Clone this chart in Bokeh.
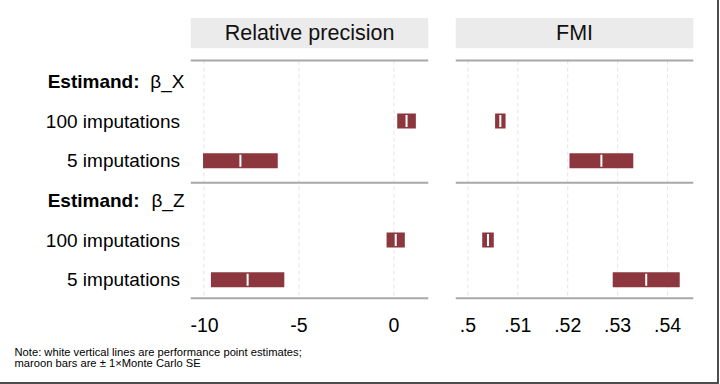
from bokeh.plotting import figure
from bokeh.models import Range1d, FixedTicker
from bokeh.layouts import row, column
from bokeh.embed import file_html
from bokeh.resources import INLINE
from bokeh.core.properties import value

# ---------------- data ----------------
PANEL_TITLES = ["Relative precision", "FMI"]
ESTIMANDS = ["β_X", "β_Z"]
ROW_LABELS = ["100 imputations", "5 imputations", "100 imputations", "5 imputations"]
ROW_POS = [1, 2, 4, 5]
HEADER_POS = [0, 3]
RP_EST = [0.66, -8.08, 0.09, -7.70]
RP_MCSE = [0.49, 1.965, 0.48, 1.93]
FMI_EST = [0.5065, 0.52674, 0.50403, 0.53572]
FMI_MCSE = [0.00105, 0.00639, 0.00116, 0.00671]
RP_TICKS = [-10, -5, 0]
RP_TICK_LABELS = ["-10", "-5", "0"]
FMI_TICKS = [0.50, 0.51, 0.52, 0.53, 0.54]
FMI_TICK_LABELS = [".5", ".51", ".52", ".53", ".54"]
NOTE_LINES = ["Note: white vertical lines are performance point estimates;",
              "maroon bars are \u00b1 1\u00d7Monte Carlo SE"]

# ---------------- style / layout ----------------
FONT = "Liberation Sans"
MAROON = "#8c373d"
STRIP = "#ebebeb"
LINE = "#a8a8a8"
GRID = "#e4e4e4"

ROW_PX = 39.67
ROW0 = 80.9
FRAME_TOP = 17.0
FRAME_BOTTOM = 300.0
TOP_H = 340
LAB_W = 190


def py(v):
    return (v - ROW0) / ROW_PX


Y_TOP_LINE = py(60.0)
Y_SEP = py(182.3)
Y_BOTTOM_LINE = py(297.7)
STRIP_TOP = py(17.5)
STRIP_BOTTOM = py(47.7)
BAR_H = 15.0 / ROW_PX


def blank(p):
    p.outline_line_color = None
    p.xgrid.visible = False
    p.ygrid.visible = False
    p.background_fill_color = "white"
    p.border_fill_color = "white"


def yrange():
    return Range1d(py(FRAME_BOTTOM), py(FRAME_TOP))


def make_panel(title, est, se, ticks, tick_labels, xr, width, bl, br):
    p = figure(width=width, height=TOP_H, x_range=xr, y_range=yrange(),
               output_backend="svg", toolbar_location=None,
               min_border_left=bl, min_border_right=br,
               min_border_top=int(FRAME_TOP),
               min_border_bottom=int(TOP_H - FRAME_BOTTOM))
    blank(p)
    p.yaxis.visible = False

    ax = p.xaxis[0]
    ax.ticker = FixedTicker(ticks=ticks)
    ax.major_label_overrides = {t: l for t, l in zip(ticks, tick_labels)}
    ax.axis_line_color = None
    ax.major_tick_line_color = None
    ax.minor_tick_line_color = None
    ax.major_tick_out = 0
    ax.major_label_standoff = 17
    ax.major_label_text_font = FONT
    ax.major_label_text_font_size = "19.5px"
    ax.major_label_text_color = "#000000"

    # dashed grid lines
    p.segment(x0=ticks, y0=[Y_TOP_LINE] * len(ticks), x1=ticks,
              y1=[Y_BOTTOM_LINE] * len(ticks), line_color=GRID,
              line_width=1, line_dash="4 3")
    # horizontal rules
    hl = [Y_TOP_LINE, Y_SEP, Y_BOTTOM_LINE]
    p.segment(x0=[xr.start] * 3, y0=hl, x1=[xr.end] * 3, y1=hl,
              line_color=LINE, line_width=2)
    # strip
    p.quad(left=[xr.start], right=[xr.end], top=[STRIP_TOP], bottom=[STRIP_BOTTOM],
           fill_color=STRIP, line_color=None)
    p.text(x=[(xr.start + xr.end) / 2], y=[(STRIP_TOP + STRIP_BOTTOM) / 2], text=[title],
           text_align="center", text_baseline="middle",
           text_font=value(FONT), text_font_size="21.5px", text_color="#111111")
    # bars (estimate +/- 1 Monte Carlo SE)
    lo = [e - s for e, s in zip(est, se)]
    hi = [e + s for e, s in zip(est, se)]
    p.hbar(y=ROW_POS, left=lo, right=hi, height=BAR_H,
           fill_color=MAROON, line_color=None)
    p.rect(x=est, y=ROW_POS, width=2, height=12, width_units="screen",
           height_units="screen", fill_color="white", line_color=None)
    return p


# panel figures
p1 = make_panel(PANEL_TITLES[0], RP_EST, RP_MCSE, RP_TICKS, RP_TICK_LABELS,
                Range1d(-10.705, 1.815), 251, 0, 13)
p2 = make_panel(PANEL_TITLES[1], FMI_EST, FMI_MCSE, FMI_TICKS, FMI_TICK_LABELS,
                Range1d(0.49752, 0.54519), 276, 14, 24)

# row-label column (x in pixels of this strip)
pl = figure(width=LAB_W, height=TOP_H, x_range=Range1d(0, LAB_W), y_range=yrange(),
            output_backend="svg", toolbar_location=None,
            min_border_left=0, min_border_right=0,
            min_border_top=int(FRAME_TOP), min_border_bottom=int(TOP_H - FRAME_BOTTOM))
blank(pl)
pl.xaxis.visible = False
pl.yaxis.visible = False
pl.text(x=[LAB_W - 10.5] * len(ROW_LABELS), y=ROW_POS, text=ROW_LABELS,
        text_align="right", text_baseline="middle",
        text_font=value(FONT), text_font_size="19px", text_color="#000000")
pl.text(x=[LAB_W - 51] * len(ESTIMANDS), y=HEADER_POS, text=["Estimand:"] * len(ESTIMANDS),
        text_align="right", text_baseline="middle", text_font_style="bold",
        text_font=value(FONT), text_font_size="19px", text_color="#000000")
pl.text(x=[LAB_W - 6] * len(ESTIMANDS), y=HEADER_POS, text=ESTIMANDS,
        text_align="right", text_baseline="middle",
        text_font=value(FONT), text_font_size="19px", text_color="#000000")

# note strip
NOTE_W = LAB_W + 251 + 276
NOTE_H = 42
pn = figure(width=NOTE_W, height=NOTE_H, x_range=Range1d(0, NOTE_W),
            y_range=Range1d(NOTE_H, 0), output_backend="svg", toolbar_location=None,
            min_border=0)
blank(pn)
pn.xaxis.visible = False
pn.yaxis.visible = False
pn.text(x=[14, 14], y=[5.0, 16.0], text=NOTE_LINES, text_align="left",
        text_baseline="top", text_font=value(FONT), text_font_size="11.2px",
        text_color="#000000")

layout = column(row(pl, p1, p2), pn,
                styles={"border-right": "2px solid #4d4d4d",
                        "border-bottom": "2px solid #4d4d4d"})

open("out.html", "w").write(file_html(layout, INLINE))
